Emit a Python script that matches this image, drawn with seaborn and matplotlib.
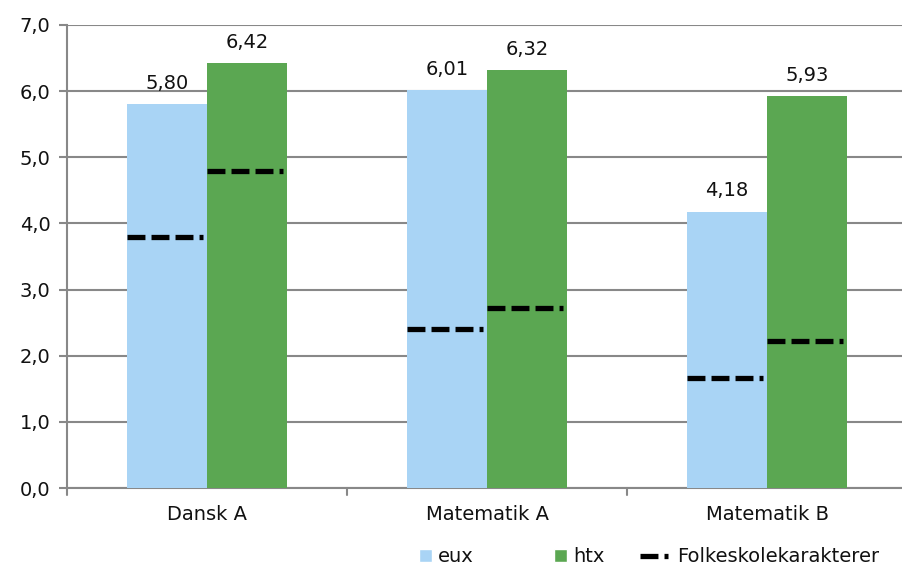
import pandas as pd
import numpy as np
import matplotlib
matplotlib.use("Agg")
import matplotlib.pyplot as plt
import seaborn as sns
from matplotlib.lines import Line2D
from matplotlib.patches import Patch

# data
fag = ["Dansk A", "Matematik A", "Matematik B"]
eux = [5.80, 6.01, 4.18]
htx = [6.42, 6.32, 5.93]
folkeskole_eux = [3.80, 2.40, 1.66]
folkeskole_htx = [4.80, 2.72, 2.22]
yticks = [0, 1, 2, 3, 4, 5, 6, 7]

df = pd.DataFrame({
    "fag": fag * 2,
    "uddannelse": ["eux"] * 3 + ["htx"] * 3,
    "karakter": eux + htx,
})

sns.set_theme(style="white")
plt.rcParams["font.family"] = ["DejaVu Sans"]
FS = 14

fig = plt.figure(figsize=(9.02, 5.77), dpi=100)
ax = fig.add_axes([67 / 902, 1 - 488 / 577, 1 - 67 / 902, (488 - 25) / 577])

colors = {"eux": "#a9d4f5", "htx": "#5ba752"}
sns.barplot(data=df, x="fag", y="karakter", hue="uddannelse", palette=colors,
            width=0.572, gap=0, saturation=1, legend=False, ax=ax, zorder=3,
            linewidth=0)

# dashed lines for folkeskolekarakterer across each bar
fk = {"eux": folkeskole_eux, "htx": folkeskole_htx}
vals = {"eux": eux, "htx": htx}
for cont, key in zip(ax.containers, ["eux", "htx"]):
    for bar, val in zip(cont, fk[key]):
        x0 = bar.get_x()
        w = bar.get_width()
        ax.plot([x0, x0 + w * 0.95], [val, val], color="black", lw=3.8,
                dashes=(3.4, 1.15), zorder=4, solid_capstyle="butt",
                dash_capstyle="butt")
    ax.bar_label(cont, labels=[f"{v:.2f}".replace(".", ",") for v in vals[key]],
                 padding=8, fontsize=FS, color="#111111")

ax.set_ylim(0, 7)
ax.set_xlim(-0.5, 2.482)
ax.set_yticks(yticks)
ax.set_yticklabels([f"{v:.1f}".replace(".", ",") for v in yticks], fontsize=FS)
ax.tick_params(axis="x", labelsize=FS, length=0, pad=12, labelcolor="#111111")
ax.tick_params(axis="y", length=6, width=1.5, color="#888888", pad=6, left=True,
               labelcolor="#111111")
ax.set_xlabel("")
ax.set_ylabel("")
ax.grid(axis="y", color="#888888", lw=1.5, zorder=0)
for s in ["top", "right"]:
    ax.spines[s].set_visible(False)
for s in ["left", "bottom"]:
    ax.spines[s].set_color("#888888")
    ax.spines[s].set_linewidth(1.5)

# category separator ticks on x axis
for xb in [-0.5, 0.5, 1.5]:
    ax.plot([xb, xb], [0, -0.1], color="#888888", lw=1.5, clip_on=False)

# legend, one entry per block like the original
entries = [
    (Patch(facecolor=colors["eux"], label="eux"), 408),
    (Patch(facecolor=colors["htx"], label="htx"), 543),
    (Line2D([0], [0], color="black", lw=3.8, dashes=(3.4, 1.15),
            label="Folkeskolekarakterer"), 629),
]
for h, xpix in entries:
    is_line = isinstance(h, Line2D)
    fig.legend(handles=[h], loc="lower left", bbox_to_anchor=(xpix / 902, 0.0),
               frameon=False, fontsize=FS, borderpad=0.05,
               handlelength=1.45 if is_line else 0.7, handleheight=0.7,
               handletextpad=0.45 if is_line else 0.3,
               labelcolor="#111111")

fig.savefig("out.png", dpi=100)
